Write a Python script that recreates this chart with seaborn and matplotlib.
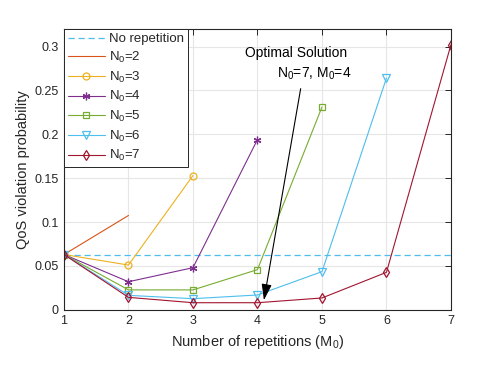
import numpy as np
import pandas as pd
import matplotlib
matplotlib.use("Agg")
import matplotlib.pyplot as plt
import seaborn as sns

# ---- data ----
M0 = [1, 2, 3, 4, 5, 6, 7]
no_rep = 0.062
n2 = [0.063, 0.1075]
n3 = [0.063, 0.051, 0.153]
n4 = [0.063, 0.032, 0.048, 0.194]
n5 = [0.063, 0.0227, 0.0227, 0.0458, 0.231]
n6 = [0.063, 0.0165, 0.0127, 0.0169, 0.0435, 0.264]
n7 = [0.063, 0.0142, 0.0081, 0.0081, 0.0135, 0.0427, 0.302]
series_labels = ["N$_0$=2", "N$_0$=3", "N$_0$=4", "N$_0$=5", "N$_0$=6", "N$_0$=7"]
xticks = [1, 2, 3, 4, 5, 6, 7]
yticks = [0, 0.05, 0.1, 0.15, 0.2, 0.25, 0.3]
ytick_labels = ["0", "0.05", "0.1", "0.15", "0.2", "0.25", "0.3"]

sns.set_style("white")
plt.rcParams['font.family'] = ['Liberation Sans', 'DejaVu Sans']
plt.rcParams['mathtext.fontset'] = 'custom'
plt.rcParams['mathtext.rm'] = 'Liberation Sans'
plt.rcParams['mathtext.it'] = 'Liberation Sans'

colors = ["#D95319", "#EDB120", "#7E2F8E", "#77AC30", "#4DBEEE", "#A2142F"]
markers = [None, "o", (6, 2, 0), "s", "v", "d"]
msizes = [0, 5, 5.5, 4.5, 5.5, 5.5]

fig = plt.figure(figsize=(4.98, 3.76), dpi=100)
ax = fig.add_axes([0.1285, 0.176, 0.777, 0.747])

# no repetition line
ax.axhline(no_rep, color="#4DBEEE", linestyle=(0, (5, 3)), linewidth=0.9, label="No repetition")

all_series = [n2, n3, n4, n5, n6, n7]
for vals, lab, c, m, ms in zip(all_series, series_labels, colors, markers, msizes):
    df = pd.DataFrame({"M0": M0[:len(vals)], "p": vals})
    kw = dict(marker=m, markersize=ms, markerfacecolor="none", markeredgecolor=c,
              markeredgewidth=0.9) if m is not None else {}
    sns.lineplot(data=df, x="M0", y="p", color=c, linewidth=0.8, label=lab, ax=ax, **kw)

ax.set_xlim(1, 7)
ax.set_ylim(0, 0.32)
ax.set_xticks(xticks)
ax.set_yticks(yticks)
ax.set_yticklabels(ytick_labels)
ax.grid(True, color="#e6e6e6", linewidth=0.8)
ax.set_axisbelow(True)
for s in ax.spines.values():
    s.set_color("#262626")
    s.set_linewidth(0.8)
ax.tick_params(axis="both", direction="in", length=4, width=0.7, color="#262626",
               labelsize=9, top=True, right=True, labelcolor="#262626", pad=4)
ax.set_xlabel("Number of repetitions (M$_0$)", fontsize=10.5, color="#262626", labelpad=4)
ax.set_ylabel("QoS violation probability", fontsize=10.5, color="#262626", labelpad=3)

leg = ax.legend(loc="upper left", fontsize=9.5, frameon=True, fancybox=False,
                framealpha=1, edgecolor="#262626", borderaxespad=0.0,
                handlelength=2.8, labelspacing=0.35, borderpad=0.3, handletextpad=0.3)
leg.get_frame().set_linewidth(0.7)
for t in leg.get_texts():
    t.set_color("#262626")

ax.annotate("", xy=(4.1, 0.011), xytext=(4.67, 0.252),
            arrowprops=dict(arrowstyle="-|>,head_length=0.7,head_width=0.22",
                            color="black", lw=0.8,
                            mutation_scale=14, shrinkA=0, shrinkB=0))
ax.text(245 / 498, 1 - 53 / 376, "Optimal Solution", transform=fig.transFigure,
        fontsize=10, ha="left", va="center", color="black")
ax.text(277 / 498, 1 - 74 / 376, "N$_0$=7, M$_0$=4", transform=fig.transFigure,
        fontsize=10, ha="left", va="center", color="black")

fig.savefig("out.png", dpi=100)
